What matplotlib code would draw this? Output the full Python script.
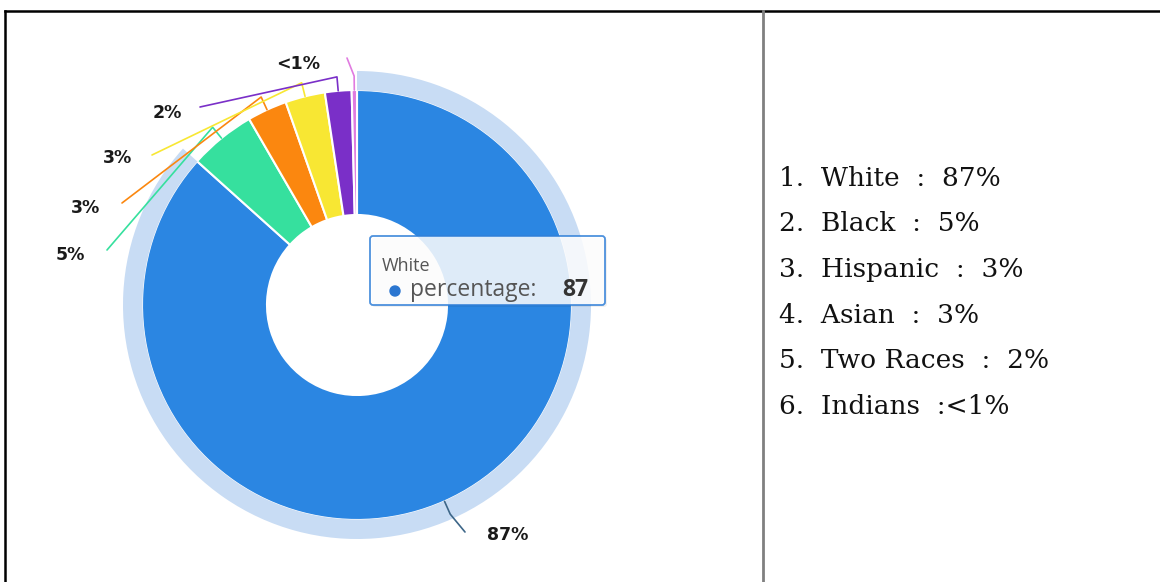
import matplotlib
matplotlib.use('Agg')
import numpy as np
import matplotlib.pyplot as plt
from matplotlib.patches import Wedge, FancyBboxPatch, Circle

# dati del grafico
categories = ['White', 'Black', 'Hispanic', 'Asian', 'Two Races', 'Indians']
percentages = [87, 5, 3, 3, 2, 0.4]
slice_labels = ['87%', '5%', '3%', '3%', '2%', '<1%']
list_values = ['87%', '5%', '3%', '3%', '2%', '<1%']
colors = ['#2b86e2', '#36e09e', '#fb870f', '#f8e733', '#7a2fc8', '#e07be0']

W, H = 1160, 582


def py(y):
    # coordinate in pixel dall'alto -> coordinate dati dal basso
    return H - y


fig = plt.figure(figsize=(W / 100, H / 100), dpi=100)
ax = fig.add_axes([0, 0, 1, 1])

# centro e raggi della ciambella (in pixel)
cx, cy = 357, py(305)
r_out, r_in = 215, 90

wedges, _ = ax.pie(percentages, colors=colors, startangle=90, counterclock=False,
                   radius=r_out, center=(cx, cy),
                   wedgeprops=dict(width=r_out - r_in, edgecolor='white', linewidth=1.5))

# alone chiaro attorno alla fetta evidenziata
w0 = wedges[0]
ax.add_patch(Wedge((cx, cy), 234, w0.theta1, w0.theta2, width=19.5,
                   facecolor='#c8dcf4', edgecolor='none', zorder=2))

# posizioni delle etichette (pixel) e punto finale della linea guida
label_pos = [(508, 535), (70, 255), (85, 208), (118, 158), (167, 113), (298, 64)]
line_end = [(465, 532), (107, 250), (122, 203), (152, 155), (200, 107), (347, 58)]
line_colors = ['#3d6688'] + colors[1:]

for w, lab, (lx, ly), (ex, ey), c in zip(wedges, slice_labels, label_pos, line_end, line_colors):
    mid = np.deg2rad((w.theta1 + w.theta2) / 2)
    x0, y0 = cx + r_out * np.cos(mid), cy + r_out * np.sin(mid)
    x1, y1 = cx + (r_out + 14) * np.cos(mid), cy + (r_out + 14) * np.sin(mid)
    ax.plot([x0, x1, ex], [y0, y1, py(ey)], color=c, lw=1.2,
            solid_capstyle='round', zorder=3)
    ax.text(lx, py(ly), lab, ha='center', va='center', fontsize=12.5,
            fontweight='bold', color='#1a1a1a', family='DejaVu Sans')

# tooltip (con ombra leggera)
shadow = FancyBboxPatch((372, py(307)), 235, 69, boxstyle='round,pad=0,rounding_size=3',
                        facecolor='#000000', alpha=0.06, edgecolor='none', zorder=4)
ax.add_patch(shadow)
tip = FancyBboxPatch((370, py(305)), 235, 69, boxstyle='round,pad=0,rounding_size=3',
                     facecolor='white', alpha=0.85, edgecolor='#2f7fd8', lw=1.3, zorder=5)
ax.add_patch(tip)
ax.text(382, py(266), categories[0], fontsize=13, color='#555555', va='center', zorder=6,
        family='Open Sans')
ax.add_patch(Circle((395, py(291)), 5, color='#2b76d0', zorder=6))
ax.text(410, py(290), 'percentage:', fontsize=16.5, color='#555555', va='center', zorder=6,
        family='Open Sans')
ax.text(588, py(290), str(percentages[0]), fontsize=16.5, color='#333333', va='center',
        ha='right', fontweight='bold', zorder=6, family='Open Sans')

# elenco a destra
for i, (name, val) in enumerate(zip(categories, list_values)):
    sep = '  :  ' if val != '<1%' else '  :'
    ax.text(779, py(178 + i * 45.7), f'{i + 1}.  {name}{sep}{val}', fontsize=19,
            va='center', ha='left', family='DejaVu Serif', color='#111111')

# bordi della tabella
ax.plot([5, W], [py(11), py(11)], color='black', lw=1.8, zorder=10)
ax.plot([5, 5], [py(11), 0], color='black', lw=1.8, zorder=10)
ax.plot([763, 763], [py(11), 0], color='#808080', lw=2, zorder=10)

ax.set_xlim(0, W)
ax.set_ylim(0, H)
ax.set_aspect('auto')
ax.axis('off')

fig.savefig('out.png', dpi=100)
